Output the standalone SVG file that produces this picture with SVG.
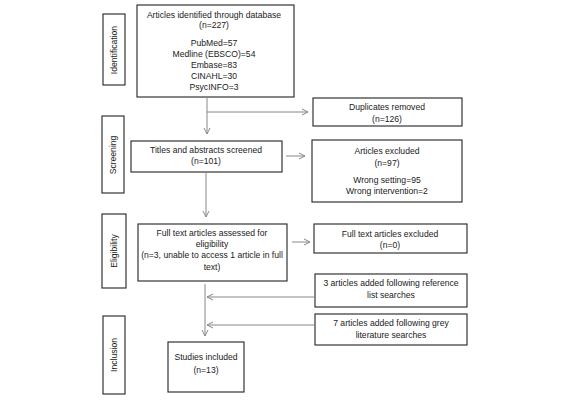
<svg xmlns="http://www.w3.org/2000/svg" width="566" height="400" viewBox="0 0 566 400">
<style>
.box{fill:#fff;stroke:#222;stroke-width:1.1}
.t{font-family:"Liberation Sans",Arial,sans-serif;font-size:8.6px;fill:#1a1a1a;text-anchor:middle}
.c{stroke:#888;stroke-width:1;fill:none}
</style>
<defs>
<marker id="ah" markerWidth="8" markerHeight="8" refX="7" refY="4" orient="auto" markerUnits="userSpaceOnUse">
<path d="M1,1 L7,4 L1,7" fill="none" stroke="#888" stroke-width="1"/>
</marker>
</defs>
<rect width="566" height="400" fill="#fff"/>
<g id="stage-identification"><rect class="box" x="103" y="14" width="22" height="71"/><text class="t" transform="translate(117,50) rotate(-90)">Identification</text></g>
<g id="stage-screening"><rect class="box" x="102" y="116" width="22" height="77"/><text class="t" transform="translate(116,155) rotate(-90)">Screening</text></g>
<g id="stage-eligibility"><rect class="box" x="102" y="214" width="24" height="74"/><text class="t" transform="translate(117,251) rotate(-90)">Eligibility</text></g>
<g id="stage-inclusion"><rect class="box" x="103" y="316" width="22" height="78"/><text class="t" transform="translate(117,355) rotate(-90)">Inclusion</text></g>

<g id="identified"><rect class="box" x="137" y="5" width="157" height="92"/>
<text class="t" x="214" y="18">Articles identified through database</text>
<text class="t" x="214" y="28">(n=227)</text>
<text class="t" x="214" y="46">PubMed=57</text>
<text class="t" x="214" y="57">Medline (EBSCO)=54</text>
<text class="t" x="214" y="68">Embase=83</text>
<text class="t" x="214" y="79">CINAHL=30</text>
<text class="t" x="214" y="90">PsycINFO=3</text></g>

<g id="duplicates"><rect class="box" x="313" y="98" width="149" height="28"/>
<text class="t" x="387" y="110">Duplicates removed</text>
<text class="t" x="387" y="122">(n=126)</text></g>

<g id="screened"><rect class="box" x="131" y="141" width="151" height="31"/>
<text class="t" x="206" y="153">Titles and abstracts screened</text>
<text class="t" x="206" y="164">(n=101)</text></g>

<g id="excluded"><rect class="box" x="312" y="140" width="150" height="62"/>
<text class="t" x="387" y="154">Articles excluded</text>
<text class="t" x="387" y="166">(n=97)</text>
<text class="t" x="387" y="183">Wrong setting=95</text>
<text class="t" x="387" y="194">Wrong intervention=2</text></g>

<g id="fulltext"><rect class="box" x="138" y="224" width="149" height="57"/>
<text class="t" x="212" y="236">Full text articles assessed for</text>
<text class="t" x="212" y="247">eligibility</text>
<text class="t" x="212" y="258">(n=3, unable to access 1 article in full</text>
<text class="t" x="212" y="270">text)</text></g>

<g id="fulltext-excluded"><rect class="box" x="314" y="224" width="153" height="29"/>
<text class="t" x="390" y="237">Full text articles excluded</text>
<text class="t" x="390" y="248">(n=0)</text></g>

<g id="reference"><rect class="box" x="315" y="274" width="152" height="33"/>
<text class="t" x="391" y="286">3 articles added following reference</text>
<text class="t" x="391" y="298">list searches</text></g>

<g id="grey"><rect class="box" x="315" y="314" width="152" height="31"/>
<text class="t" x="391" y="326">7 articles added following grey</text>
<text class="t" x="391" y="338">literature searches</text></g>

<g id="included"><rect class="box" x="168" y="342" width="76" height="50"/>
<text class="t" x="206" y="360">Studies included</text>
<text class="t" x="206" y="373">(n=13)</text></g>

<g id="connectors">
<line class="c" x1="207" y1="97" x2="207" y2="134" marker-end="url(#ah)"/>
<line class="c" x1="207" y1="112" x2="308" y2="112" marker-end="url(#ah)"/>
<line class="c" x1="286" y1="156" x2="305" y2="156" marker-end="url(#ah)"/>
<line class="c" x1="206" y1="172" x2="206" y2="217" marker-end="url(#ah)"/>
<line class="c" x1="292" y1="242" x2="310" y2="242" marker-end="url(#ah)"/>
<line class="c" x1="205" y1="284" x2="205" y2="336" marker-end="url(#ah)"/>
<line class="c" x1="314" y1="297" x2="207" y2="297" marker-end="url(#ah)"/>
<line class="c" x1="314" y1="325" x2="207" y2="325" marker-end="url(#ah)"/>
</g>
</svg>
